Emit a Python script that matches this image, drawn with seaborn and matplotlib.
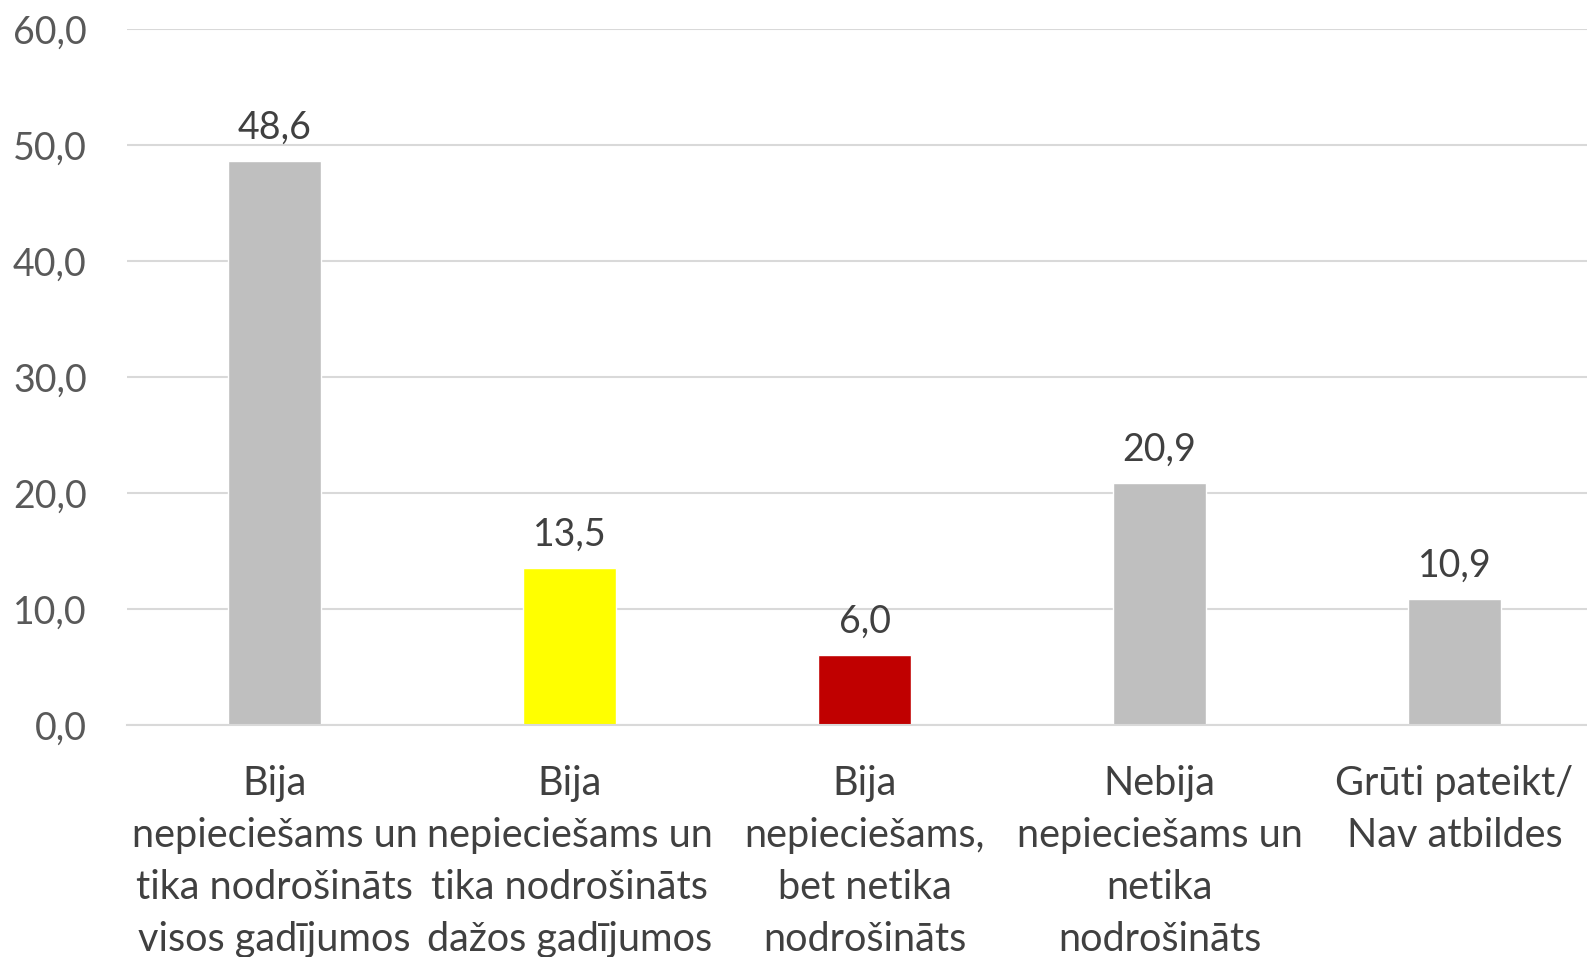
import pandas as pd
import matplotlib.pyplot as plt
import seaborn as sns

categories = [
    "Bija\nnepieciešams un\ntika nodrošināts\nvisos gadījumos",
    "Bija\nnepieciešams un\ntika nodrošināts\ndažos gadījumos",
    "Bija\nnepieciešams,\nbet netika\nnodrošināts",
    "Nebija\nnepieciešams un\nnetika\nnodrošināts",
    "Grūti pateikt/\nNav atbildes",
]
values = [48.6, 13.5, 6.0, 20.9, 10.9]
colors = ["#BFBFBF", "#FFFF00", "#C00000", "#BFBFBF", "#BFBFBF"]
yticks = [0, 10, 20, 30, 40, 50, 60]

df = pd.DataFrame({"cat": categories, "val": values})

sns.set_style("white")
plt.rcParams["font.family"] = ["Lato", "DejaVu Sans"]

fig = plt.figure(figsize=(15.87, 9.57), dpi=100)
ax = fig.add_axes([127 / 1587, 232 / 957, 1475 / 1587, 696 / 957])

sns.barplot(
    data=df, x="cat", y="val", hue="cat", palette=colors,
    width=0.315, legend=False, ax=ax, saturation=1,
)

ax.set_ylim(0, 60)
ax.set_yticks(yticks)
ax.set_yticklabels([f"{t:.1f}".replace(".", ",") for t in yticks])
ax.yaxis.grid(True, color="#D9D9D9", linewidth=1.5)
ax.set_axisbelow(True)
for s in ["top", "right", "left"]:
    ax.spines[s].set_visible(False)
ax.spines["bottom"].set_color("#D9D9D9")
ax.spines["bottom"].set_linewidth(1.5)
ax.set_xlabel("")
ax.set_ylabel("")
ax.tick_params(axis="y", length=0, pad=29, labelsize=27, labelcolor="#595959")
ax.tick_params(axis="x", length=0, pad=29, labelsize=28.5, labelcolor="#404040")
for lbl in ax.get_xticklabels():
    lbl.set_linespacing(1.5)

for container in ax.containers:
    ax.bar_label(
        container,
        labels=[f"{v:.1f}".replace(".", ",") for v in container.datavalues],
        padding=11, fontsize=27, color="#404040",
    )

fig.savefig("out.png", dpi=100)
